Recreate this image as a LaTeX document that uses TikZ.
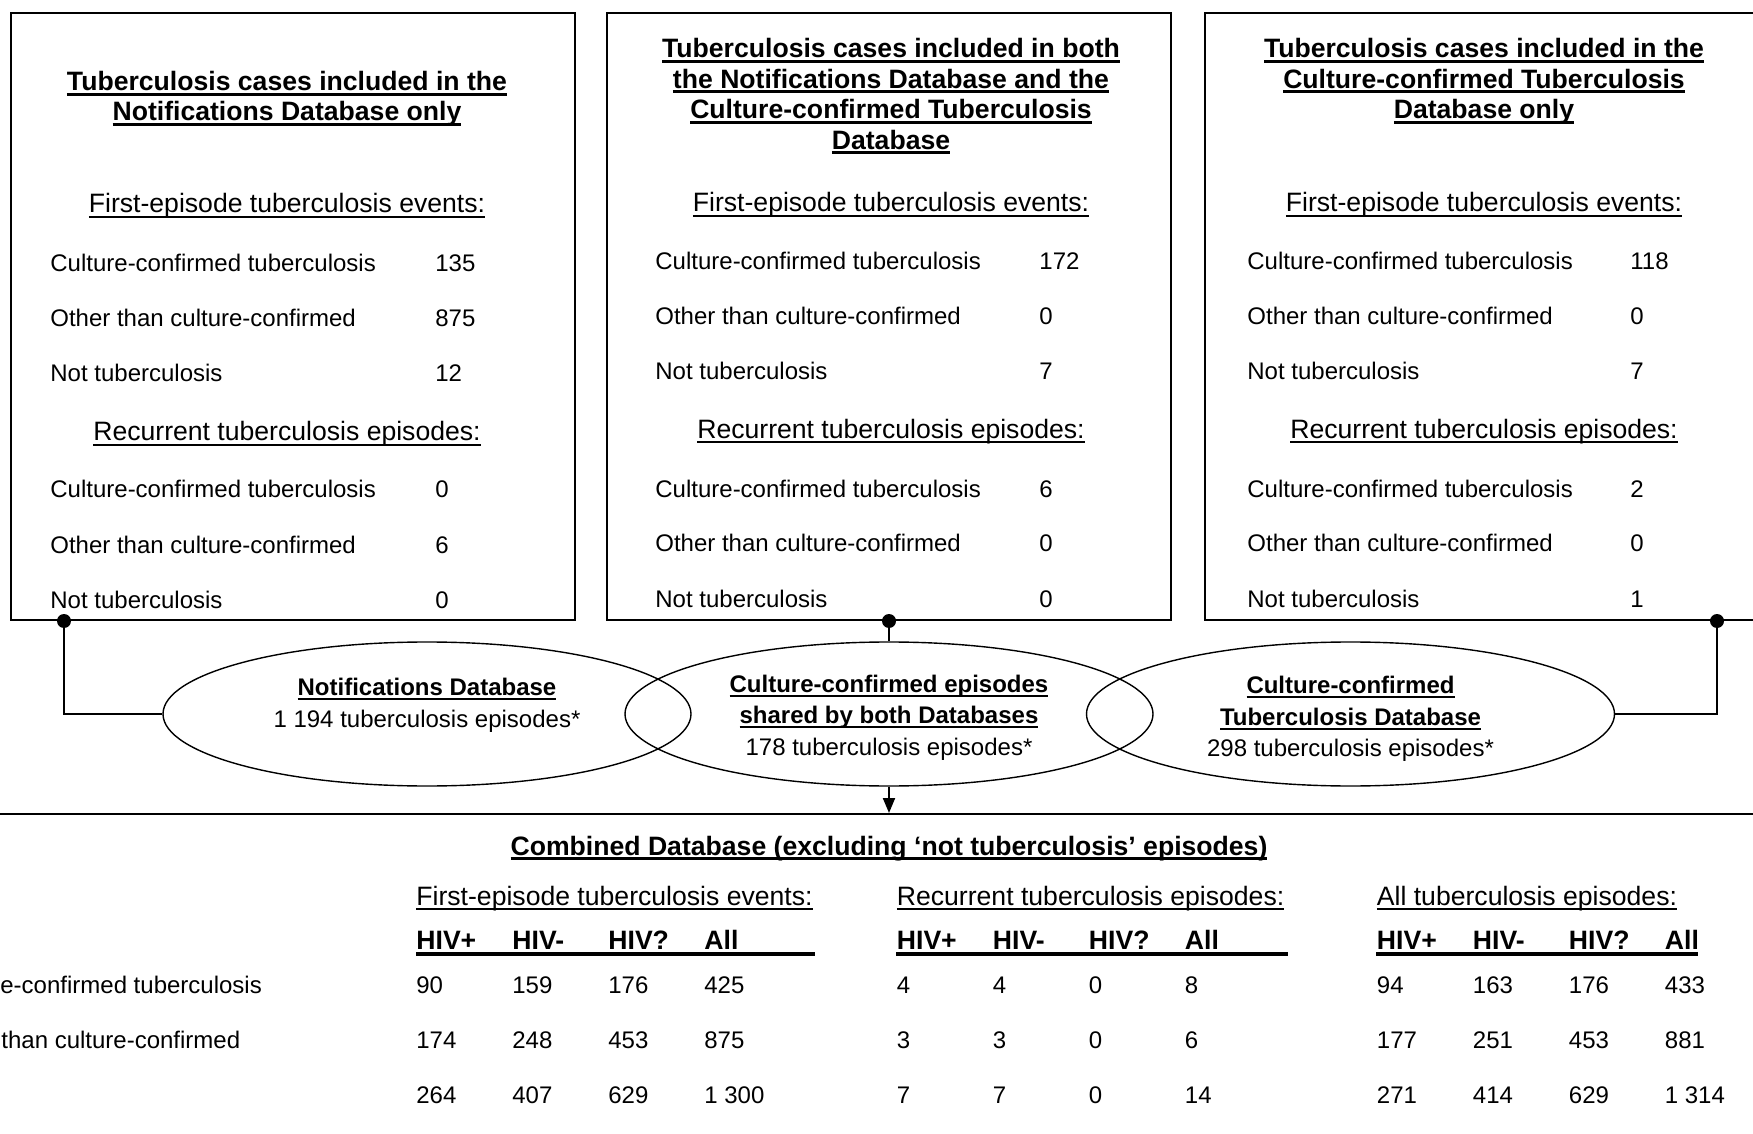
\documentclass[tikz,border=0pt]{standalone}
\usepackage{fontspec}
\setmainfont{Liberation Sans}
\usetikzlibrary{shapes.geometric,arrows.meta}
\newsavebox{\myulbox}
\newcommand{\ulthk}[2]{\leavevmode\sbox{\myulbox}{#2}\rlap{\rule[-2.3pt]{\wd\myulbox}{#1}}\usebox{\myulbox}}
\newcommand{\uln}[1]{\ulthk{0.9pt}{#1}}
\newcommand{\ulb}[1]{\ulthk{1.3pt}{#1}}
\tikzset{
  hd/.style={anchor=base, inner sep=0pt, font=\fontsize{13.3}{15}\selectfont},
  hdb/.style={anchor=base, inner sep=0pt, font=\fontsize{13.3}{15}\selectfont\bfseries},
  hdw/.style={anchor=base west, inner sep=0pt, font=\fontsize{13.3}{15}\selectfont},
  hv/.style={anchor=base west, inner sep=0pt, font=\fontsize{13.3}{15}\selectfont\bfseries},
  rw/.style={anchor=base west, inner sep=0pt, font=\fontsize{12}{14}\selectfont},
  ec/.style={anchor=base, inner sep=0pt, font=\fontsize{12}{14}\selectfont},
  ecb/.style={anchor=base, inner sep=0pt, font=\fontsize{12}{14}\selectfont\bfseries},
  boxline/.style={line width=1.1pt},
  ell/.style={draw, ellipse, line width=0.7pt, minimum width=264pt, minimum height=72pt, inner sep=0pt},
  dotn/.style={circle, fill, inner sep=0pt, minimum size=7pt},
  conn/.style={line width=1pt},
  hivline/.style={line width=2pt}
}
\begin{document}
\begin{tikzpicture}[x=0.5pt, y=-0.5pt]
\useasboundingbox (0,0) rectangle (1753,1134);
\clip (0,0) rectangle (1753,1134);

% ---------- top boxes ----------
\draw[boxline] (11,13) rectangle (575,620);
\draw[boxline] (607,13) rectangle (1171,620);
\draw[boxline] (1205,13) rectangle (1775,620);

% box 1
\node[hdb] (b1t1) at (287,91) {\ulb{Tuberculosis cases included in the}};
\node[hdb] (b1t2) at (287,121) {\ulb{Notifications Database only}};
\node[hd] (b1h1) at (287,213) {\uln{First-episode tuberculosis events:}};
\node[rw] (b1r1) at (50,272) {Culture-confirmed tuberculosis};
\node[rw] (b1n1) at (435,272) {135};
\node[rw] (b1r2) at (50,327) {Other than culture-confirmed};
\node[rw] (b1n2) at (435,327) {875};
\node[rw] (b1r3) at (50,382) {Not tuberculosis};
\node[rw] (b1n3) at (435,382) {12};
\node[hd] (b1h2) at (287,441) {\uln{Recurrent tuberculosis episodes:}};
\node[rw] (b1r4) at (50,498) {Culture-confirmed tuberculosis};
\node[rw] (b1n4) at (435,498) {0};
\node[rw] (b1r5) at (50,553) {Other than culture-confirmed};
\node[rw] (b1n5) at (435,553) {6};
\node[rw] (b1r6) at (50,608) {Not tuberculosis};
\node[rw] (b1n6) at (435,608) {0};

% box 2
\node[hdb] (b2t1) at (891,58) {\ulb{Tuberculosis cases included in both}};
\node[hdb] (b2t2) at (891,88.5) {\ulb{the Notifications Database and the}};
\node[hdb] (b2t3) at (891,119) {\ulb{Culture-confirmed Tuberculosis}};
\node[hdb] (b2t4) at (891,149.5) {\ulb{Database}};
\node[hd] (b2h1) at (891,212) {\uln{First-episode tuberculosis events:}};
\node[rw] (b2r1) at (655,270) {Culture-confirmed tuberculosis};
\node[rw] (b2n1) at (1039,270) {172};
\node[rw] (b2r2) at (655,325) {Other than culture-confirmed};
\node[rw] (b2n2) at (1039,325) {0};
\node[rw] (b2r3) at (655,380) {Not tuberculosis};
\node[rw] (b2n3) at (1039,380) {7};
\node[hd] (b2h2) at (891,438) {\uln{Recurrent tuberculosis episodes:}};
\node[rw] (b2r4) at (655,497) {Culture-confirmed tuberculosis};
\node[rw] (b2n4) at (1039,497) {6};
\node[rw] (b2r5) at (655,552) {Other than culture-confirmed};
\node[rw] (b2n5) at (1039,552) {0};
\node[rw] (b2r6) at (655,607) {Not tuberculosis};
\node[rw] (b2n6) at (1039,607) {0};

% box 3
\node[hdb] (b3t1) at (1484,58) {\ulb{Tuberculosis cases included in the}};
\node[hdb] (b3t2) at (1484,88.5) {\ulb{Culture-confirmed Tuberculosis}};
\node[hdb] (b3t3) at (1484,119) {\ulb{Database only}};
\node[hd] (b3h1) at (1484,212) {\uln{First-episode tuberculosis events:}};
\node[rw] (b3r1) at (1247,270) {Culture-confirmed tuberculosis};
\node[rw] (b3n1) at (1630,270) {118};
\node[rw] (b3r2) at (1247,325) {Other than culture-confirmed};
\node[rw] (b3n2) at (1630,325) {0};
\node[rw] (b3r3) at (1247,380) {Not tuberculosis};
\node[rw] (b3n3) at (1630,380) {7};
\node[hd] (b3h2) at (1484,438) {\uln{Recurrent tuberculosis episodes:}};
\node[rw] (b3r4) at (1247,497) {Culture-confirmed tuberculosis};
\node[rw] (b3n4) at (1630,497) {2};
\node[rw] (b3r5) at (1247,552) {Other than culture-confirmed};
\node[rw] (b3n5) at (1630,552) {0};
\node[rw] (b3r6) at (1247,607) {Not tuberculosis};
\node[rw] (b3n6) at (1630,607) {1};

% ---------- ellipses ----------
\node[ell] (e1) at (427,714) {};
\node[ell] (e2) at (889,714) {};
\node[ell] (e3) at (1350.5,714) {};

\node[ecb] (e1a) at (427,695) {\uln{Notifications Database}};
\node[ec]  (e1b) at (427,727) {1 194 tuberculosis episodes*};
\node[ecb] (e2a) at (889,692) {\uln{Culture-confirmed episodes}};
\node[ecb] (e2b) at (889,723.5) {\uln{shared by both Databases}};
\node[ec]  (e2c) at (889,755) {178 tuberculosis episodes*};
\node[ecb] (e3a) at (1350.5,693.5) {\uln{Culture-confirmed}};
\node[ecb] (e3b) at (1350.5,725) {\uln{Tuberculosis Database}};
\node[ec]  (e3c) at (1350.5,756.5) {298 tuberculosis episodes*};

% ---------- connectors ----------
\node[dotn] (d1) at (64,621) {};
\node[dotn] (d2) at (889,621) {};
\node[dotn] (d3) at (1717,621) {};
\coordinate (cb) at (889,813);
\draw[conn] (d1.center) |- (e1.west);
\draw[conn] (d2.center) -- (e2.north);
\draw[conn] (d3.center) |- (e3.east);
\draw[conn, -{Triangle[width=6pt,length=7.5pt]}] (e2.south) -- (cb);

% ---------- combined database ----------
\draw[line width=1.3pt] (-10,814) -- (1765,814);
\node[hdb] (ct) at (889,855) {\ulb{Combined Database (excluding ‘not tuberculosis’ episodes)}};

\node[hdw] (s1) at (416,905) {\uln{First-episode tuberculosis events:}};
\node[hdw] (s2) at (896.5,905) {\uln{Recurrent tuberculosis episodes:}};
\node[hdw] (s3) at (1376.5,905) {\uln{All tuberculosis episodes:}};

\foreach \gx [count=\gi] in {416,896.5,1376.5} {
  \node[hv] (h\gi a) at (\gx,949.5) {HIV+};
  \node[hv] (h\gi b) at (\gx+96,949.5) {HIV-};
  \node[hv] (h\gi c) at (\gx+192,949.5) {HIV?};
  \node[hv] (h\gi d) at (\gx+288,949.5) {All};
}
\draw[hivline] (416,954) -- (815,954);
\draw[hivline] (896,954) -- (1288,954);
\draw[hivline] (1376,954) -- (1698,954);

\node[rw] (lab1) at (0,993) {e-confirmed tuberculosis};
\node[rw] (lab2) at (1,1048) {than culture-confirmed};

\foreach \yy/\va/\vb/\vc/\vd [count=\rr] in {993/90/159/176/425, 1048/174/248/453/875, 1103/264/407/629/1 300} {
  \node[rw] (fa\rr) at (416,\yy) {\va};
  \node[rw] (fb\rr) at (512,\yy) {\vb};
  \node[rw] (fc\rr) at (608,\yy) {\vc};
  \node[rw] (fd\rr) at (704,\yy) {\vd};
}
\foreach \yy/\va/\vb/\vc/\vd [count=\rr] in {993/4/4/0/8, 1048/3/3/0/6, 1103/7/7/0/14} {
  \node[rw] (ra\rr) at (896.5,\yy) {\va};
  \node[rw] (rb\rr) at (992.5,\yy) {\vb};
  \node[rw] (rc\rr) at (1088.5,\yy) {\vc};
  \node[rw] (rd\rr) at (1184.5,\yy) {\vd};
}
\foreach \yy/\va/\vb/\vc/\vd [count=\rr] in {993/94/163/176/433, 1048/177/251/453/881, 1103/271/414/629/1 314} {
  \node[rw] (aa\rr) at (1376.5,\yy) {\va};
  \node[rw] (ab\rr) at (1472.5,\yy) {\vb};
  \node[rw] (ac\rr) at (1568.5,\yy) {\vc};
  \node[rw] (ad\rr) at (1664.5,\yy) {\vd};
}
\end{tikzpicture}
\end{document}
